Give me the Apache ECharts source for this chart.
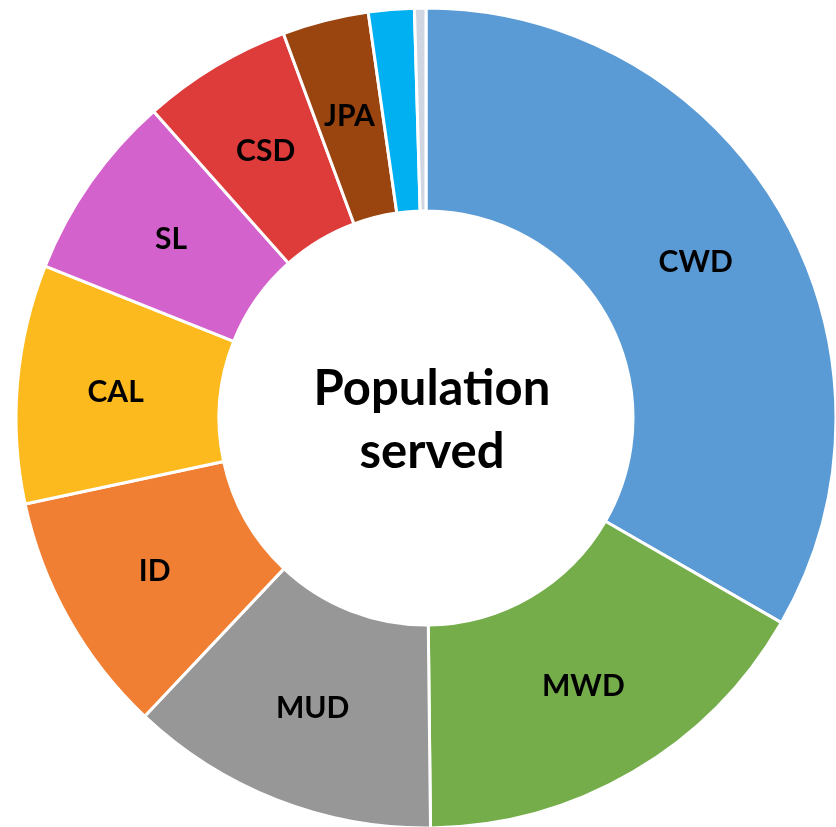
<!DOCTYPE html>
<html>
<head>
<meta charset="utf-8">
<script src="https://cdn.jsdelivr.net/npm/echarts@6/dist/echarts.min.js"></script>
<style>html,body{margin:0;padding:0;background:#fff}#c{width:836px;height:827px}</style>
</head>
<body>
<div id="c"></div>
<script>
const categories = ['CWD', 'MWD', 'MUD', 'ID', 'CAL', 'SL', 'CSD', 'JPA', 'Other 1', 'Other 2'];
const values = [33.3, 16.5, 12.2, 9.6, 9.4, 7.4, 5.9, 3.4, 1.8, 0.45];
const colors = ['#5B9BD5', '#75AD4A', '#979797', '#F07F34', '#FDBA1E', '#D462CC', '#DE3B3B', '#9A4510', '#00B0F0', '#D0D5E2'];
const showLabel = [true, true, true, true, true, true, true, true, false, false];
const centerTitle = 'Population\nserved';

const chart = echarts.init(document.getElementById('c'));
chart.setOption({
  animation: false,
  graphic: [{
    type: 'text',
    style: {
      text: centerTitle,
      x: 432, y: 421,
      textAlign: 'center',
      textVerticalAlign: 'middle',
      font: 'bold 49px Lato, "Open Sans", sans-serif',
      lineHeight: 63,
      fill: '#000'
    }
  }],
  series: [{
    type: 'pie',
    center: [426, 418],
    radius: [207, 410],
    startAngle: 90,
    clockwise: true,
    avoidLabelOverlap: false,
    itemStyle: { borderColor: '#fff', borderWidth: 3 },
    label: {
      position: 'inside',
      color: '#000',
      fontWeight: 'bold',
      fontSize: 30,
      fontFamily: 'Lato, "Open Sans", sans-serif',
      formatter: p => p.name
    },
    labelLine: { show: false },
    emphasis: { disabled: true },
    data: categories.map((n, i) => ({
      name: n,
      value: values[i],
      itemStyle: { color: colors[i] },
      label: { show: showLabel[i] }
    }))
  }]
});
</script>
</body>
</html>
